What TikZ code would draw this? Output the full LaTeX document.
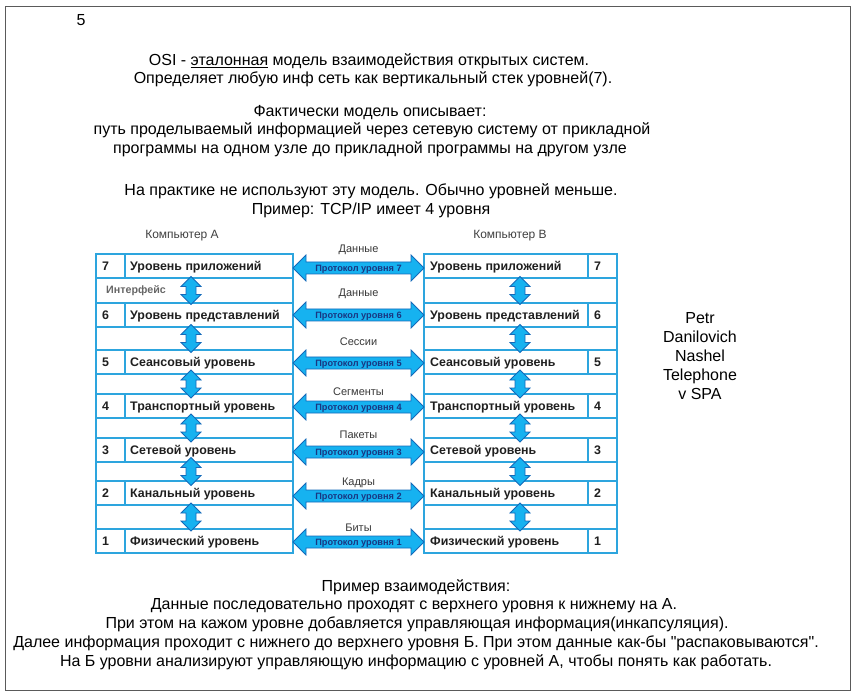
\documentclass[tikz,border=0pt]{standalone}
\usepackage{fontspec}
\setmainfont{Liberation Sans}
\newfontfamily\plainfont{Liberation Sans}
\definecolor{stackline}{RGB}{45,165,222}
\definecolor{arrfill}{RGB}{22,178,240}
\definecolor{arrline}{RGB}{20,105,185}
\definecolor{navy}{RGB}{25,55,130}
\definecolor{frame}{RGB}{90,90,90}
\begin{document}
\begin{tikzpicture}[x=1pt,y=-1pt,
  main/.style={font=\fontsize{16}{18}\selectfont, inner sep=0pt, anchor=center, text height=11.4pt, text depth=0pt},
  lname/.style={font=\fontsize{12.4}{14}\selectfont\bfseries, text=black!88, inner sep=0pt, anchor=west, text height=8.9pt, text depth=0pt},
  lnum/.style={lname},
  comp/.style={font=\fontsize{12}{13}\selectfont, text=black!75, inner sep=0pt, anchor=center, text height=8.6pt, text depth=0pt},
  plab/.style={font=\fontsize{11}{12}\selectfont, text=black!78, inner sep=0pt, anchor=center, text height=7.9pt, text depth=0pt},
  ptxt/.style={font=\fontsize{9.2}{10}\selectfont\bfseries, text=navy, inner sep=0pt, anchor=center, text height=6.6pt, text depth=0pt},
  iface/.style={font=\fontsize{10.7}{12}\selectfont\bfseries, text=black!60, inner sep=0pt, anchor=west, text height=7.7pt, text depth=0pt},
  stack/.style={draw=stackline, line width=1.8pt},
  blockarr/.style={fill=arrfill, draw=arrline, line width=0.8pt, line join=miter}
]
\useasboundingbox (0,0) rectangle (859,700);
\draw[frame, line width=1pt] (5.5,7) rectangle (850.5,690.5);

% header text
\node[main, anchor=center] (num) at (81,20) {5};
\node[main] (t1) at (369,60) {OSI - \underline{эталонная} модель взаимодействия открытых систем.};
\node[main] (t2) at (373,78) {Определяет любую инф сеть как вертикальный стек уровней(7).};
\node[main] (t3) at (370,111) {Фактически модель описывает:};
\node[main] (t4) at (372,129) {путь проделываемый информацией через сетевую систему от прикладной};
\node[main] (t5) at (370,148) {программы на одном узле до прикладной программы на другом узле};
\node[main] (t6) at (371,190) {На практике не используют эту модель. Обычно уровней меньше.};
\node[main] (t7) at (371,209) {Пример: TCP/IP имеет 4 уровня};

% side text
\node[main] (s1) at (700,318) {Petr};
\node[main] (s2) at (700,337) {Danilovich};
\node[main] (s3) at (700,356) {Nashel};
\node[main] (s4) at (700,375) {Telephone};
\node[main] (s5) at (700,394) {v SPA};

% bottom text
\node[main] (b1) at (416,586) {Пример взаимодействия:};
\node[main] (b2) at (414,604) {Данные последовательно проходят с верхнего уровня к нижнему на А.};
\node[main] (b3) at (417,623) {При этом на кажом уровне добавляется управляющая информация(инкапсуляция).};
\node[main] (b4) at (416,642) {Далее информация проходит с нижнего до верхнего уровня Б. При этом данные как-бы {\plainfont"}распаковываются{\plainfont"}.};
\node[main] (b5) at (416,661) {На Б уровни анализируют управляющую информацию с уровней А, чтобы понять как работать.};

% computer titles
\node[comp] (ca) at (182,234) {Компьютер А};
\node[comp] (cb) at (510,234) {Компьютер В};

% stacks: rows
\foreach \y in {266,315,362,406,450,493,541} {
  \draw[stack] (96,\y-12) rectangle (293,\y+12);
  \draw[stack] (125,\y-12) -- (125,\y+12);
  \draw[stack] (424,\y-12) rectangle (617,\y+12);
  \draw[stack] (588,\y-12) -- (588,\y+12);
}
\draw[stack] (96,254) rectangle (293,553);
\draw[stack] (424,254) rectangle (617,553);

% layer names
\foreach \n/\y/\t in {7/266/Уровень приложений,6/315/Уровень представлений,5/362/Сеансовый уровень,4/406/Транспортный уровень,3/450/Сетевой уровень,2/493/Канальный уровень,1/541/Физический уровень} {
  \node[lnum] (ln\n) at (102,\y) {\n};
  \node[lname] (la\n) at (130,\y) {\t};
  \node[lname] (ra\n) at (430,\y) {\t};
  \node[lnum] (rn\n) at (594,\y) {\n};
}
\node[iface] (if) at (106,290) {Интерфейс};

% vertical double arrows
\foreach \g in {290.5,338.5,384,428,471.5,517} {
  \foreach \xc in {191,520} {
    \draw[blockarr] (\xc,\g-14) -- ++(10,10) -- ++(-5,0) -- ++(0,8) -- ++(5,0)
      -- ++(-10,10) -- ++(-10,-10) -- ++(5,0) -- ++(0,-8) -- ++(-5,0) -- cycle;
  }
}

% horizontal double arrows
\foreach \n/\y/\l/\ly in {7/268/Данные/249,6/315/Данные/293,5/363/Сессии/342,4/407/Сегменты/392,3/452/Пакеты/435,2/496/Кадры/482,1/542/Биты/528} {
  \draw[blockarr] (293,\y) -- ++(13,-13) -- ++(0,7) -- ++(105,0) -- ++(0,-7)
     -- ++(13,13) -- ++(-13,13) -- ++(0,-7) -- ++(-105,0) -- ++(0,7) -- cycle;
  \node[ptxt] (p\n) at (358.5,\y) {Протокол уровня \n};
  \node[plab] (d\n) at (358.5,\ly) {\l};
}
\end{tikzpicture}
\end{document}
